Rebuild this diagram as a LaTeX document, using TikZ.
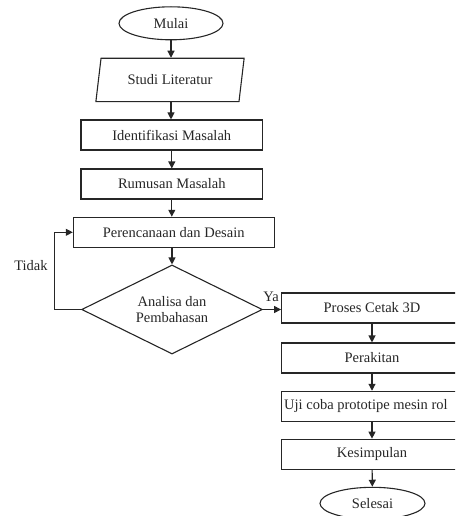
\documentclass[tikz,border=0pt]{standalone}
\usepackage{fontspec}
\setmainfont{Liberation Serif}
\usetikzlibrary{shapes.geometric,arrows.meta}

\begin{document}
\begin{tikzpicture}[x=1pt, y=-1pt, font=\fontsize{14.5}{16.7}\selectfont,
  every node/.style={text=black!85},
  line/.style={draw=black!85, line width=1.1pt},
  arr/.style={line, -{Triangle[length=7pt, width=7pt]}},
  box/.style={line, minimum width=181.7pt, minimum height=30pt, inner sep=0pt},
  term/.style={line, ellipse, minimum width=104pt, minimum height=33pt, inner sep=0pt},
  io/.style={line, trapezium, trapezium left angle=72.7, trapezium right angle=107.3,
    trapezium stretches=true, minimum width=149pt, minimum height=43.4pt, inner sep=0pt},
  decide/.style={line, diamond, aspect=2.03, minimum width=180.7pt, minimum height=89pt,
    inner sep=0pt, align=center}]
  \useasboundingbox (0,0) rectangle (455,516);
  \clip (0,0) rectangle (455,516);
  % kolom kiri
  \node[term] (mulai) at (171,23.3) {Mulai};
  \node[io] (studi) at (170,80) {Studi Literatur};
  \node[box] (ident) at (171.8,135) {Identifikasi Masalah};
  \node[box] (rumus) at (171.8,184) {Rumusan Masalah};
  \node[box, minimum width=200.7pt] (desain) at (173.7,232.3) {Perencanaan dan Desain};
  \node[decide] (analisa) at (172,309.5) {Analisa dan\\Pembahasan};
  \coordinate (balik) at (54.3,309.5);
  \node (tidak) at (31,266) {Tidak};
  \node (ya) at (271,297) {Ya};
  % kolom kanan
  \node[box, minimum width=180.7pt] (cetak) at (372,308) {Proses Cetak 3D};
  \node[box, minimum width=180.7pt] (rakit) at (372,358) {Perakitan};
  \node[box, minimum width=180.7pt] (uji) at (372,406.3) {};
  \node[anchor=west, inner sep=0pt] (ujitxt) at (284,406.3) {Uji coba prototipe mesin rol};
  \node[box, minimum width=180.7pt] (simpul) at (372,454.2) {Kesimpulan};
  \node[term, minimum width=105pt, minimum height=32pt] (selesai) at (372.5,503.3) {Selesai};

  \draw[arr] (mulai) -- (mulai.south |- studi.north);
  \draw[arr] (mulai.south |- studi.south) -- (mulai.south |- ident.north);
  \draw[arr] (ident) -- (rumus);
  \draw[arr] (rumus) -- (rumus.south |- desain.north);
  \draw[arr] (analisa.north |- desain.south) -- (analisa);
  \draw[arr] (analisa.west) -- (balik) |- (desain.west);
  \draw[arr] (analisa.east) -- (analisa.east -| cetak.west);
  \draw[arr] (cetak) -- (rakit);
  \draw[arr] (rakit) -- (uji);
  \draw[arr] (uji) -- (simpul);
  \draw[arr] (simpul) -- (selesai);
\end{tikzpicture}
\end{document}
